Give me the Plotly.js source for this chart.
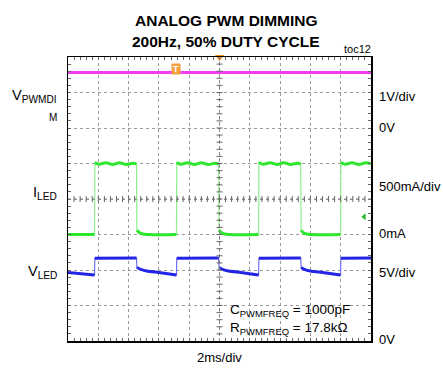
<!DOCTYPE html>
<html><head><meta charset="utf-8">
<script src="https://cdn.plot.ly/plotly-3.0.1.min.js"></script>
<style>html,body{margin:0;padding:0;background:#fff}#chart{width:443px;height:370px}</style>
</head><body><div id="chart"></div>
<script>
// time in ms (2 ms/div), vertical in screen divisions (0..8)
const pwmTime = [0, 20];
const pwmDiv = [7.56, 7.56];

const iledTime = [0, 1.75, 1.77, 2.05, 2.5, 2.95, 3.4, 3.85, 4.3, 4.52, 4.55, 4.8, 5.3,
  7.16, 7.18, 7.45, 7.9, 8.35, 8.8, 9.25, 9.7, 9.94, 9.97, 10.2, 10.7,
  12.58, 12.6, 12.9, 13.35, 13.8, 14.25, 14.7, 15.15, 15.36, 15.39, 15.6, 16.1,
  17.99, 18.01, 18.3, 18.75, 19.2, 19.65, 20];
const iledDiv = [3.0, 3.0, 5.03, 4.98, 5.02, 4.97, 5.02, 4.97, 5.01, 4.99, 3.12, 3.03, 3.0,
  3.0, 5.03, 4.98, 5.02, 4.97, 5.02, 4.97, 5.01, 4.99, 3.12, 3.03, 3.0,
  3.0, 5.03, 4.98, 5.02, 4.97, 5.02, 4.97, 5.01, 4.99, 3.12, 3.03, 3.0,
  3.0, 5.03, 4.98, 5.02, 4.97, 5.02, 4.99];

const vledTime = [0, 1.75, 1.77, 4.52, 4.55, 4.8, 5.2, 6.0, 7.16, 7.18, 9.94, 9.97, 10.2, 10.6, 11.4,
  12.58, 12.6, 15.36, 15.39, 15.6, 16.0, 16.8, 17.99, 18.01, 20];
const vledDiv = [1.93, 1.86, 2.33, 2.34, 2.07, 2.02, 1.97, 1.93, 1.86, 2.33, 2.34, 2.07, 2.02, 1.97, 1.93,
  1.86, 2.33, 2.34, 2.07, 2.02, 1.97, 1.93, 1.86, 2.33, 2.34];

const triggerPos = {t: [10], d: [8]};
const levelPos = {t: [19.55], d: [3.5]};
const tMarkPos = {t: [7.13], d: [7.66]};

const titleLines = ["ANALOG PWM DIMMING", "200Hz, 50% DUTY CYCLE"];
const rightLabels = ["1V/div", "0V", "500mA/div", "0mA", "5V/div", "0V"];
const rightLabelPx = [96, 127, 187, 233, 272, 339];
const FONT = "Liberation Sans, Arial, sans-serif";

function levelsOnly(x, y) {
  const ox = [], oy = [];
  for (let i = 0; i < x.length; i++) {
    if (i > 0 && Math.abs(y[i] - y[i-1]) > 0.15 && (x[i] - x[i-1]) < 0.1) { ox.push(null); oy.push(null); }
    ox.push(x[i]); oy.push(y[i]);
  }
  return [ox, oy];
}
const gL = levelsOnly(iledTime, iledDiv);
const bL = levelsOnly(vledTime, vledDiv);

const traces = [
  {x: pwmTime, y: pwmDiv, mode: 'lines', line: {color: '#f23cf2', width: 3}, hoverinfo: 'skip'},
  {x: iledTime, y: iledDiv, mode: 'lines', line: {color: '#8ef08e', width: 1.2}, hoverinfo: 'skip'},
  {x: gL[0], y: gL[1], mode: 'lines', line: {color: '#2ee62e', width: 3, shape: 'spline', smoothing: 1}, connectgaps: false, hoverinfo: 'skip'},
  {x: vledTime, y: vledDiv, mode: 'lines', line: {color: '#7070f0', width: 1.2}, hoverinfo: 'skip'},
  {x: bL[0], y: bL[1], mode: 'lines', line: {color: '#2424e6', width: 3, shape: 'spline', smoothing: 0.5}, connectgaps: false, hoverinfo: 'skip'},
  {x: triggerPos.t, y: triggerPos.d, mode: 'markers', cliponaxis: false,
   marker: {symbol: 'triangle-down', size: 8, color: '#f4901e'}, hoverinfo: 'skip'},
  {x: levelPos.t, y: levelPos.d, mode: 'markers', cliponaxis: false,
   marker: {symbol: 'triangle-left', size: 6, color: '#2eb82e'}, hoverinfo: 'skip'}
];

const shapes = [
  {type: 'line', xref: 'x', yref: 'y', x0: 0, x1: 20, y0: 4, y1: 4, line: {color: '#888', width: 1, dash: 'dot'}},
  {type: 'line', xref: 'x', yref: 'y', x0: 10, x1: 10, y0: 0, y1: 8, line: {color: '#888', width: 1, dash: 'dot'}}
];
for (let k = 1; k < 50; k++) {
  const t = k * 0.4;
  shapes.push({type: 'line', xref: 'x', yref: 'y', ysizemode: 'pixel', yanchor: 4, y0: -3, y1: 3,
    x0: t, x1: t, line: {color: '#666', width: 1}});
}
for (let k = 1; k < 40; k++) {
  const v = k * 0.2;
  shapes.push({type: 'line', xref: 'x', yref: 'y', xsizemode: 'pixel', xanchor: 10, x0: -3, x1: 3,
    y0: v, y1: v, line: {color: '#666', width: 1}});
}

function py(p) { return (341 - p) / 284; }
function px(p) { return (p - 68) / 303; }

const ann = [];
ann.push({text: titleLines[0], x: px(226), y: py(21), xref: 'paper', yref: 'paper', showarrow: false,
  xanchor: 'center', yanchor: 'middle', font: {family: FONT, size: 15.5, color: '#000', weight: 'bold'}});
ann.push({text: titleLines[1], x: px(226), y: py(41), xref: 'paper', yref: 'paper', showarrow: false,
  xanchor: 'center', yanchor: 'middle', font: {family: FONT, size: 15.5, color: '#000', weight: 'bold'}});
ann.push({text: 'toc12', x: px(373), y: py(49), xref: 'paper', yref: 'paper', showarrow: false,
  xanchor: 'right', yanchor: 'middle', font: {family: FONT, size: 11, color: '#000'}});
rightLabels.forEach((t, i) => ann.push({text: t, x: px(377), y: py(rightLabelPx[i]), xref: 'paper', yref: 'paper',
  showarrow: false, xanchor: 'left', yanchor: 'middle', font: {family: FONT, size: 13, color: '#000'}}));
ann.push({text: 'V<sub>PWMDI</sub>', x: px(59), y: py(96), xref: 'paper', yref: 'paper', showarrow: false,
  xanchor: 'right', yanchor: 'middle', font: {family: FONT, size: 14.5, color: '#000'}});
ann.push({text: 'M', x: px(53), y: py(117), xref: 'paper', yref: 'paper', showarrow: false,
  xanchor: 'center', yanchor: 'middle', font: {family: FONT, size: 10, color: '#000'}});
ann.push({text: 'I<sub>LED</sub>', x: px(59), y: py(193), xref: 'paper', yref: 'paper', showarrow: false,
  xanchor: 'right', yanchor: 'middle', font: {family: FONT, size: 14.5, color: '#000'}});
ann.push({text: 'V<sub>LED</sub>', x: px(59), y: py(272), xref: 'paper', yref: 'paper', showarrow: false,
  xanchor: 'right', yanchor: 'middle', font: {family: FONT, size: 14.5, color: '#000'}});
ann.push({text: 'C<sub>PWMFREQ</sub> = 1000pF', x: px(228), y: py(310), xref: 'paper', yref: 'paper', showarrow: false,
  xanchor: 'left', yanchor: 'middle', font: {family: FONT, size: 13.5, color: '#000'}});
ann.push({text: 'R<sub>PWMFREQ</sub> = 17.8kΩ', x: px(228), y: py(328), xref: 'paper', yref: 'paper', showarrow: false,
  xanchor: 'left', yanchor: 'middle', font: {family: FONT, size: 13.5, color: '#000'}});
ann.push({text: '2ms/div', x: px(219), y: py(357), xref: 'paper', yref: 'paper', showarrow: false,
  xanchor: 'center', yanchor: 'middle', font: {family: FONT, size: 13, color: '#000'}});
ann.push({text: 'T', x: tMarkPos.t[0], y: tMarkPos.d[0], xref: 'x', yref: 'y', showarrow: false,
  xanchor: 'center', yanchor: 'middle', bgcolor: '#f4a040', borderpad: 0, width: 8, height: 10,
  font: {family: FONT, size: 9, color: '#fff', weight: 'bold'}});

const axCommon = {showline: true, linecolor: '#000', linewidth: 1.5, mirror: 'ticks', zeroline: false,
  showticklabels: false, ticks: 'inside', ticklen: 3, tickcolor: '#666',
  showgrid: true, gridcolor: '#9a9a9a', griddash: 'dot', gridwidth: 1, fixedrange: true};

const layout = {
  width: 443, height: 370,
  margin: {l: 68, r: 72, t: 57, b: 29, pad: 0},
  paper_bgcolor: '#fff', plot_bgcolor: '#fff',
  showlegend: false,
  xaxis: Object.assign({}, axCommon, {range: [0, 20], dtick: 2, tick0: 0,
    minor: {dtick: 0.4, ticks: 'inside', ticklen: 3, tickcolor: '#666', showgrid: false}}),
  yaxis: Object.assign({}, axCommon, {range: [0, 8], dtick: 1, tick0: 0,
    minor: {dtick: 0.2, ticks: 'inside', ticklen: 3, tickcolor: '#666', showgrid: false}}),
  shapes: shapes,
  annotations: ann
};
Plotly.newPlot('chart', traces, layout, {staticPlot: true, displayModeBar: false});
</script></body></html>
